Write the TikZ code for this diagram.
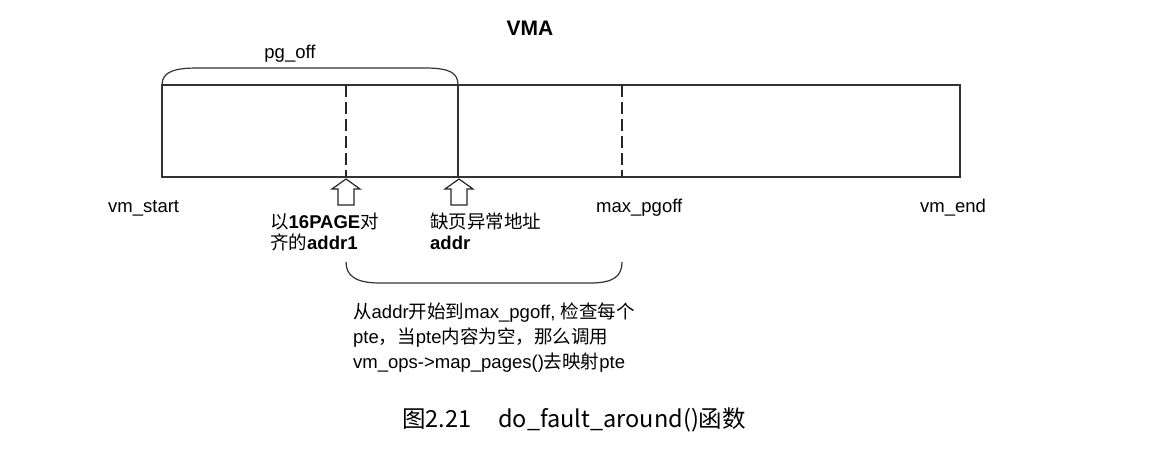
\documentclass[tikz,border=0pt]{standalone}
\usepackage{fontspec}
\setmainfont{Liberation Sans}
\newfontfamily\cjk{Noto Sans CJK SC}
\usetikzlibrary{positioning}
\tikzstyle{Label}=[inner sep=0pt,font=\fontsize{18.5}{21}\selectfont,align=left]
\tikzstyle{Note}=[inner sep=0pt,font=\fontsize{18.5}{25}\selectfont,align=left]
\tikzstyle{Frame}=[draw=black!80,line width=1.2pt]
\tikzstyle{Mark}=[draw=black!85,line width=1.2pt,dash pattern=on 12pt off 5pt]
\tikzstyle{Brace}=[draw=black!80,line width=1.2pt]
\tikzstyle{HollowArrow}=[draw=black!85,fill=white,line width=1.2pt,line join=miter]

\begin{document}
\begin{tikzpicture}[x=1pt,y=-1pt]
        \useasboundingbox (0,0) rectangle (1168,461);
        % box of the VMA
        \coordinate (s) at (162,85);
        \coordinate (a1) at (346,85);
        \coordinate (a) at (458,85);
        \coordinate (m) at (622,85);
        \coordinate (e) at (960,177);
        \draw[Frame] (s) rectangle (e);
        \draw[Mark] (a1) -- (346,177);
        \draw[Frame,line width=1.8pt] (a) -- (458,177);
        \draw[Mark] (m) -- (622,177);
        % braces
        \draw[Brace] (s) .. controls +(0,-14) and +(-22,0) .. (198,68) -- (425,68) .. controls +(25,0) and +(0,-12) .. (a);
        \coordinate (b1) at (346,262);
        \coordinate (b2) at (622,262);
        \draw[Brace] (b1) .. controls +(0,14) and +(-24,0) .. (380,283) -- (590,283) .. controls +(24,0) and +(0,14) .. (b2);
        % hollow arrows
        \draw[HollowArrow] (346,179) -- ++(-14,10) -- ++(6,0) -- ++(0,16) -- ++(16,0) -- ++(0,-16) -- ++(6,0) -- cycle;
        \draw[HollowArrow] (459,179) -- ++(-14,10) -- ++(6,0) -- ++(0,16) -- ++(16,0) -- ++(0,-16) -- ++(6,0) -- cycle;
        % texts
        \node[Label,font=\fontsize{21}{25}\selectfont\bfseries] (vma) at (530,28) {VMA};
        \node[Label] (pgoff) at (290,54) {pg\_off};
        \node[Label,anchor=west] (vmstart) at (108,208) {vm\_start};
        \node[Label,anchor=west] (maxpg) at (596,208) {max\_pgoff};
        \node[Label,anchor=west] (vmend) at (920,208) {vm\_end};
        \node[Label,anchor=north west] (addr1) at (270,213) {{\cjk 以}\textbf{16PAGE}{\cjk 对}\\{\cjk 齐的}\textbf{addr1}};
        \node[Label,anchor=north west] (addr) at (430,213) {{\cjk 缺页异常地址}\\\textbf{addr}};
        \node[Note,anchor=north west] (desc) at (353,303) {{\cjk 从}addr{\cjk 开始到}max\_pgoff, {\cjk 检查每个}\\pte{\cjk ，当}pte{\cjk 内容为空，那么调用}\\vm\_ops->map\_pages(){\cjk 去映射}pte};
        \node[inner sep=0pt,anchor=west,font=\fontsize{23.5}{28}\cjk] (cap) at (402,420) {图2.21\hspace{27pt}do\_fault\_around()函数};
\end{tikzpicture}
\end{document}
